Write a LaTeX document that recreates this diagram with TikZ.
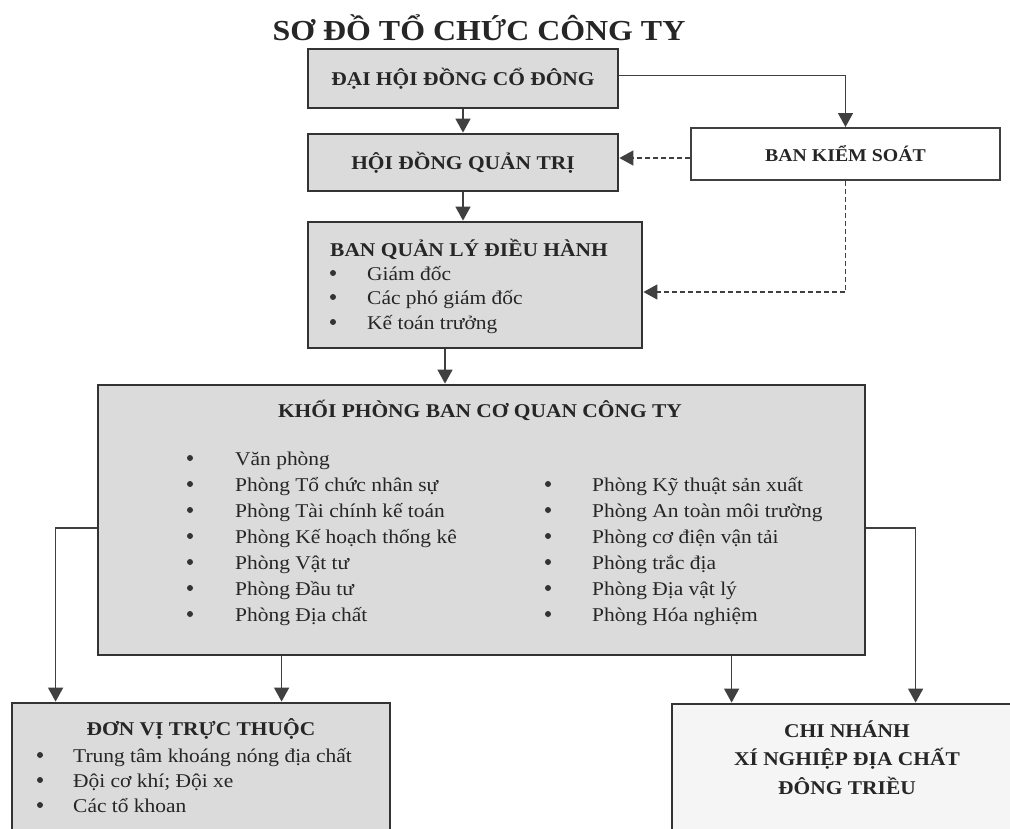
\documentclass[tikz,border=0pt]{standalone}
\usepackage{fontspec}
\setmainfont[FakeStretch=1.1]{Liberation Serif}
\usetikzlibrary{arrows.meta,calc}
\begin{document}
\begin{tikzpicture}[x=1pt,y=-1pt,
  box/.style={draw=black!80,line width=2.8pt,fill=black!14,inner sep=0pt},
  lightbox/.style={draw=black!75,line width=2pt,fill=white,inner sep=0pt},
  conn/.style={draw=black!75,line width=1.4pt,-{Triangle[width=15pt,length=14pt]}},
  dconn/.style={conn,dash pattern=on 5pt off 3pt},
  ttl/.style={font=\fontsize{19.5}{24}\selectfont\bfseries,text=black!85,inner sep=0pt},
  txt/.style={font=\fontsize{19.5}{24}\selectfont,text=black!85,inner sep=0pt,anchor=base west},
  bul/.style={circle,fill=black!80,inner sep=0pt,minimum size=6pt}]
\useasboundingbox (0,0) rectangle (1010,828);
\clip (0,0) rectangle (1010,828);
\fill[white] (0,0) rectangle (1010,828);

% title
\node[font=\fontsize{29}{34}\selectfont\bfseries,text=black!85,inner sep=0pt] (title) at (479,28) {SƠ ĐỒ TỔ CHỨC CÔNG TY};

% boxes
\node[box,minimum width=310pt,minimum height=59pt] (dhd) at (463,78.5) {};
\node[box,minimum width=310pt,minimum height=57pt] (hdqt) at (463,162.5) {};
\node[lightbox,minimum width=309pt,minimum height=52pt] (bks) at (845.5,154) {};
\node[box,minimum width=334pt,minimum height=126pt] (bql) at (475,285) {};
\node[box,minimum width=767pt,minimum height=270pt] (kpb) at (481.5,520) {};
\node[box,minimum width=378pt,minimum height=160pt] (dv) at (201,783) {};
\node[box,fill=black!4,minimum width=360pt,minimum height=160pt] (cn) at (852,784) {};

% box texts
\node[ttl] (t1) at (dhd.center) {ĐẠI HỘI ĐỒNG CỔ ĐÔNG};
\node[ttl] (t2) at (hdqt.center) {HỘI ĐỒNG QUẢN TRỊ};
\node[ttl,font=\fontsize{18}{22}\selectfont\bfseries] (t3) at (bks.center) {BAN KIỂM SOÁT};
\node[ttl,anchor=base west] (t4) at (330,256) {BAN QUẢN LÝ ĐIỀU HÀNH};
\node[bul] (b41) at (333,273) {};
\node[txt] (x41) at (367,280) {Giám đốc};
\node[bul] (b42) at (333,297) {};
\node[txt] (x42) at (367,304) {Các phó giám đốc};
\node[bul] (b43) at (333,322) {};
\node[txt] (x43) at (367,329) {Kế toán trưởng};

\node[ttl,anchor=base] (t5) at (480,417) {KHỐI PHÒNG BAN CƠ QUAN CÔNG TY};
\foreach \i/\t in {0/Văn phòng,1/Phòng Tổ chức nhân sự,2/Phòng Tài chính kế toán,3/Phòng Kế hoạch thống kê,4/Phòng Vật tư,5/Phòng Đầu tư,6/Phòng Địa chất}{
  \node[bul] (bl\i) at (190,458+26*\i) {};
  \node[txt] (xl\i) at (235,465+26*\i) {\t};
}
\foreach \i/\t in {1/Phòng Kỹ thuật sản xuất,2/Phòng An toàn môi trường,3/Phòng cơ điện vận tải,4/Phòng trắc địa,5/Phòng Địa vật lý,6/Phòng Hóa nghiệm}{
  \node[bul] (br\i) at (548,458+26*\i) {};
  \node[txt] (xr\i) at (592,465+26*\i) {\t};
}

\node[ttl,anchor=base] (t6) at (201,735) {ĐƠN VỊ TRỰC THUỘC};
\node[bul] (b61) at (40,755) {};
\node[txt] (x61) at (73,762) {Trung tâm khoáng nóng địa chất};
\node[bul] (b62) at (40,780) {};
\node[txt] (x62) at (73,787) {Đội cơ khí; Đội xe};
\node[bul] (b63) at (40,805) {};
\node[txt] (x63) at (73,812) {Các tổ khoan};

\node[ttl,anchor=base] (t71) at (847,737) {CHI NHÁNH};
\node[ttl,anchor=base] (t72) at (847,765) {XÍ NGHIỆP ĐỊA CHẤT};
\node[ttl,anchor=base] (t73) at (847,794) {ĐÔNG TRIỀU};

% connector targets
\coordinate (dvA) at ($(dv.north west)+(45,0)$);
\coordinate (dvB) at ($(dv.north west)+(271,0)$);
\coordinate (cnA) at ($(cn.north west)+(61,0)$);
\coordinate (cnB) at ($(cn.north west)+(245,0)$);
\coordinate (kl) at ($(kpb.west)+(0,8)$);
\coordinate (kr) at ($(kpb.east)+(0,8)$);
\coordinate (dr) at ($(dhd.east)+(0,-3)$);
\coordinate (bqr) at ($(bql.east)+(0,7)$);
\coordinate (bksw) at ($(bks.west)+(0,4)$);

% connectors
\draw[conn] (dhd.south) -- (hdqt.north);
\draw[conn] (hdqt.south) -- (hdqt.south |- bql.north);
\draw[conn] (dr) -| (bks.north);
\draw[dconn] (bksw) -- (bksw -| hdqt.east);
\draw[dconn] (bks.south) |- (bqr);
\draw[conn] (bql.south -| 445,0) -- (445,0 |- kpb.north);
\draw[conn] (kl) -| (dvA);
\draw[conn] (dvB |- kpb.south) -- (dvB);
\draw[conn] (kr) -| (cnB);
\draw[conn] (cnA |- kpb.south) -- (cnA);
\end{tikzpicture}
\end{document}
